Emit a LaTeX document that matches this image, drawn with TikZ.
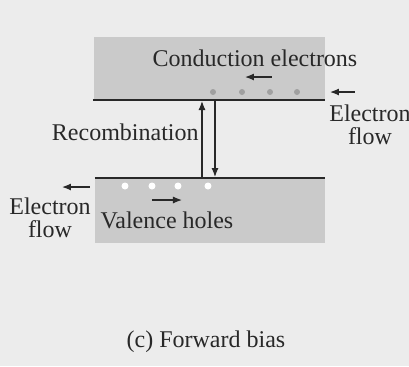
\documentclass[tikz,border=0pt]{standalone}
\usepackage{fontspec}
\setmainfont{Liberation Serif}
\definecolor{paper}{RGB}{236, 236, 236}
\definecolor{bandgray}{RGB}{202, 202, 202}
\definecolor{dotgray}{RGB}{160, 160, 160}
\definecolor{ink}{RGB}{40, 40, 40}
\usetikzlibrary{arrows.meta, positioning}

\begin{document}
\begin{tikzpicture}[x=0.5pt, y=-0.5pt,
		band/.style={fill=bandgray, draw=none},
		edge/.style={line width=1pt, color=ink},
		flow/.style={-{Latex[length=4.5pt, width=3.5pt]}, line width=0.6pt, color=ink},
		lbl/.style={font=\fontsize{12}{11.5}\selectfont, text=ink, align=center, inner sep=0pt},
		elec/.style={circle, fill=dotgray, inner sep=0pt, minimum size=3pt},
		hole/.style={circle, fill=white, inner sep=0pt, minimum size=3.5pt}
		]
		% Fond
		\fill[paper] (0,0) rectangle (409,366);
		\useasboundingbox (0,0) rectangle (409,366);
		
		% Bandes
		\fill[band] (94,37) rectangle (325,100);
		\fill[band] (95,178) rectangle (325,243);
		\coordinate (cbl) at (93,100);
		\coordinate (cbr) at (325,100);
		\coordinate (vbl) at (95,178);
		\coordinate (vbr) at (325,178);
		\draw[edge] (cbl) -- (cbr);
		\draw[edge] (vbl) -- (vbr);
		
		% Electrons et trous
		\foreach \x [count=\i] in {213, 242, 270, 297}
		\node[elec] (e\i) at (\x, 92) {};
		\foreach \x [count=\i] in {125, 152, 178, 208}
		\node[hole] (h\i) at (\x, 186) {};
		
		% Textes
		\node[lbl] (cond)  at (255, 58)  {Conduction electrons};
		\node[lbl, anchor=east] (recomb) at (199, 132) {Recombination};
		\node[lbl] (val)   at (167, 220) {Valence holes};
		\node[lbl] (flowr) at (370, 125) {Electron\\flow};
		\node[lbl] (flowl) at (50, 218)  {Electron\\flow};
		\node[lbl] (cap)   at (206, 342) {(c) Forward bias};
		
		% Fleches
		\coordinate (c1) at (272, 77);  \coordinate (c2) at (245, 77);
		\coordinate (r1) at (355, 92);  \coordinate (r2) at (330, 92);
		\coordinate (v1) at (152, 200); \coordinate (v2) at (182, 200);
		\coordinate (l1) at (90, 187);  \coordinate (l2) at (62, 187);
		\draw[flow] (c1) -- (c2);
		\draw[flow] (r1) -- (r2);
		\draw[flow] (v1) -- (v2);
		\draw[flow] (l1) -- (l2);
		
		% Recombinaison
		\coordinate (up0) at (202, 177);  \coordinate (up1) at (202, 101);
		\coordinate (dn0) at (215, 101);  \coordinate (dn1) at (215, 177);
		\draw[flow] (up0) -- (up1);
		\draw[flow] (dn0) -- (dn1);
	\end{tikzpicture}
\end{document}
